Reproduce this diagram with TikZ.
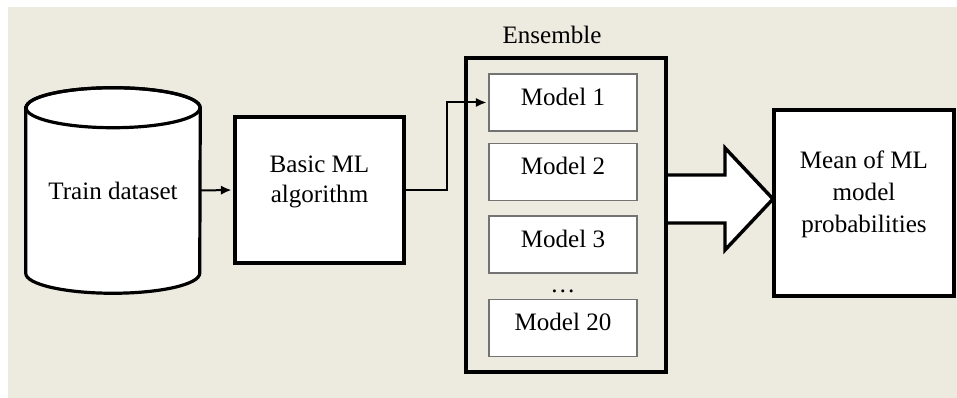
\documentclass[tikz,border=0pt]{standalone}
\usepackage{fontspec}
\setmainfont{Liberation Serif}
\usetikzlibrary{arrows.meta,positioning,calc}

\definecolor{paper}{RGB}{237,234,224}

\begin{document}
\begin{tikzpicture}[
    x=0.75pt, y=0.75pt,
    font=\fontsize{18.8}{22.5}\selectfont,
    %% Hrubé bloky (dataset, algoritmus, priemer)
    mainbox/.style={draw=black, line width=2.6pt, fill=white, inner sep=0pt},
    %% Rámik súboru modelov
    ensbox/.style={draw=black, line width=2.6pt, inner sep=0pt},
    %% Jednotlivé modely
    modelbox/.style={
        draw=black!55, line width=1.1pt, fill=white,
        minimum width=111pt, minimum height=42.75pt,
        text height=12.8pt, text depth=9pt
    },
    %% Text v blokoch
    boxtext/.style={align=center},
    %% Tenké spojnice so šípkou
    conn/.style={draw=black, line width=1.5pt,
        -{Latex[length=8pt, width=7pt]}, shorten >=1.3pt},
    %% Veľká biela šípka
    fatarrow/.style={draw=black, line width=2.6pt, fill=white, line join=miter}
]

%% Pozadie
\useasboundingbox (0,0) rectangle (957,398);
\fill[white] (0,0) rectangle (957,398);
\fill[paper] (8,0) rectangle (957,391);

%% ══════════════════════════════════════════════════════════════════
%% Dataset — valec
%% ══════════════════════════════════════════════════════════════════
\node[minimum width=130.5pt, minimum height=153.75pt, inner sep=0pt]
    (db) at (113,207.5) {};
\filldraw[fill=white, draw=black, line width=2.4pt]
    ([yshift=-15pt]db.north west) -- ([yshift=15pt]db.south west)
    arc[start angle=180, end angle=360, x radius=65.25pt, y radius=15pt]
    -- ([yshift=-15pt]db.north east)
    arc[start angle=0, end angle=180, x radius=65.25pt, y radius=15pt]
    -- cycle;
\draw[black, line width=2.4pt]
    ([yshift=-15pt]db.north) ellipse[x radius=65.25pt, y radius=15pt];
\node[boxtext] (dbtxt) at (db.center) {Train dataset};

%% ══════════════════════════════════════════════════════════════════
%% Základný algoritmus
%% ══════════════════════════════════════════════════════════════════
\node[mainbox, minimum width=126.75pt, minimum height=109.5pt]
    (basic) at (319.5,208) {};
\node[boxtext] (basictxt) at ([yshift=6.4pt]basic.center)
    {Basic ML\\algorithm};

\draw[conn] (db.east) -- (basic.west);

%% ══════════════════════════════════════════════════════════════════
%% Súbor modelov
%% ══════════════════════════════════════════════════════════════════
%% Veľká šípka ide pod rámik
\draw[fatarrow] (666,223) -- (725,223) -- (725,250) -- (773,199)
    -- (725,148) -- (725,175) -- (666,175);

\node[ensbox, minimum width=150pt, minimum height=235.5pt]
    (ens) at (566,183) {};
\node (enslbl) at (552,363) {Ensemble};

\node[modelbox] (m1)  at (563,295.5) {Model 1};
\node[modelbox] (m2)  at (563,226)   {Model 2};
\node[modelbox] (m3)  at (563,153.5) {Model 3};
\node (dots) at (563,107) {\ldots};
\node[modelbox] (m20) at (563,70)    {Model 20};

\draw[conn] (basic.east) -- ++(41,0) |- (m1.west);

%% ══════════════════════════════════════════════════════════════════
%% Priemer pravdepodobností
%% ══════════════════════════════════════════════════════════════════
\node[mainbox, minimum width=135pt, minimum height=139.5pt]
    (mean) at (864,195) {};
\node[boxtext, font=\fontsize{18.8}{24}\selectfont] (meantxt)
    at ([yshift=6.4pt]mean.center)
    {Mean of ML\\model\\probabilities};

\end{tikzpicture}
\end{document}
